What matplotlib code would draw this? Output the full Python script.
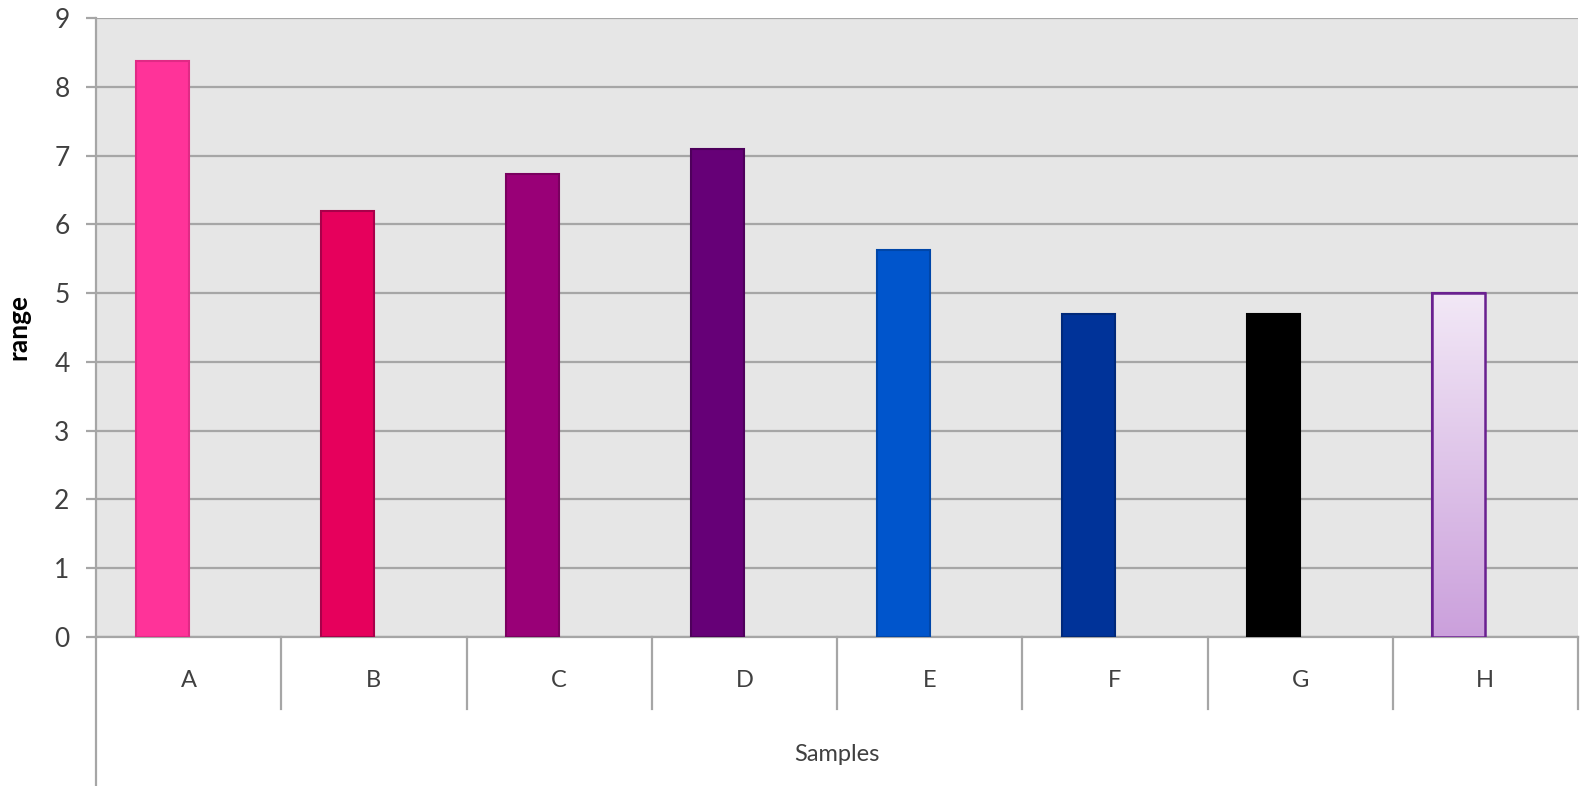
import numpy as np
import matplotlib
matplotlib.use("Agg")
import matplotlib.pyplot as plt
from matplotlib.colors import LinearSegmentedColormap

categories = ["A", "B", "C", "D", "E", "F", "G", "H"]
values = [8.38, 6.20, 6.73, 7.10, 5.63, 4.70, 4.70, 5.00]
colors = ["#FF3399", "#E6005C", "#990077", "#660077", "#0055CC", "#003399", "#000000", "#E8D8EE"]
edges = ["#E02A85", "#A8004A", "#7A005F", "#4E005B", "#0046A8", "#00297A", "#000000", "#6A2090"]

plt.rcParams['font.family'] = ['Lato', 'DejaVu Sans']

fig = plt.figure(figsize=(15.89, 7.86), dpi=100)
ax = fig.add_axes([96 / 1589, 149 / 786, 1482 / 1589, 619 / 786])
ax.set_facecolor("#E6E6E6")

x = np.arange(len(categories))
# clustered layout: second (empty) series leaves each bar left of centre
width = 1 / 3.5
bars = ax.bar(x - width / 2, values, width=width, color=colors, edgecolor=edges,
              linewidth=1.5, zorder=3)

# gradient fill for the last bar
cmap = LinearSegmentedColormap.from_list("lav", ["#CBA0DC", "#F2E8F6"])
hb = bars[-1]
grad = np.linspace(0, 1, 256).reshape(-1, 1)
im = ax.imshow(grad, cmap=cmap, origin="lower", aspect="auto", zorder=3.5,
               extent=[hb.get_x(), hb.get_x() + hb.get_width(), 0, hb.get_height()])
im.set_clip_path(hb)
ax.bar(hb.get_x() + hb.get_width() / 2, values[-1], width=width, color="none",
       edgecolor=edges[-1], linewidth=1.8, zorder=4)

ax.set_xlim(-0.5, len(categories) - 0.5)
ax.set_ylim(0, 9)
ax.set_yticks(range(10))
ax.grid(axis="y", color="#A6A6A6", linewidth=1.6, zorder=1)
ax.tick_params(axis="y", length=7, width=1.6, color="#A6A6A6", labelsize=19,
               labelcolor="#404040", pad=12)
ax.set_xticks(x)
ax.set_xticklabels(categories)
ax.tick_params(axis="x", length=0, labelsize=17, labelcolor="#404040", pad=24)

for side in ["top", "right"]:
    ax.spines[side].set_visible(False)
for side in ["left", "bottom"]:
    ax.spines[side].set_color("#A6A6A6")
    ax.spines[side].set_linewidth(1.6)

# category box below the axis
tr = ax.get_xaxis_transform()
for b in np.arange(0.5, len(categories), 1.0):
    ax.plot([b, b], [0, -0.116], transform=tr, color="#A6A6A6", lw=1.6, clip_on=False)
ax.plot([-0.5, -0.5], [0, -0.239], transform=tr, color="#A6A6A6", lw=1.6, clip_on=False)

ax.text(0.5, -0.19, "Samples", transform=ax.transAxes, ha="center", va="center",
        fontsize=17, color="#404040")
ax.text(-0.0525, 0.5, "range", transform=ax.transAxes, ha="center", va="center",
        rotation=90, fontsize=19, fontweight="bold", color="black")

fig.savefig("out.png", dpi=100)
